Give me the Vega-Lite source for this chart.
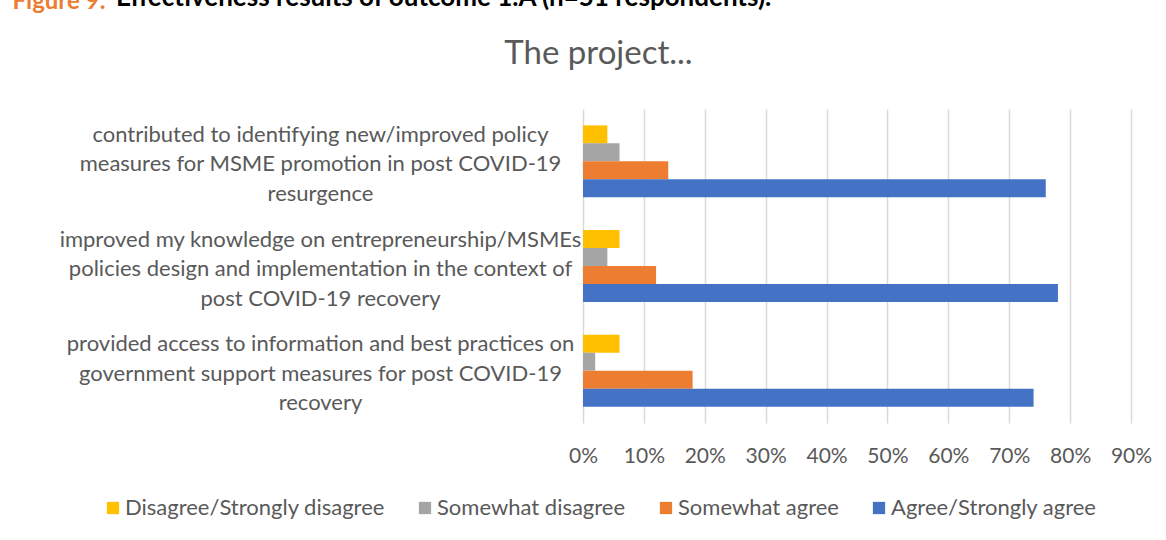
{
  "$schema": "https://vega.github.io/schema/vega-lite/v6.json",
  "width": 548,
  "height": 314,
  "autosize": {"type": "none"},
  "padding": {"left": 583, "top": 109, "right": 35, "bottom": 117},
  "background": "white",
  "config": {"font": "Lato", "view": {"stroke": null}},
  "title": {
    "text": "Effectiveness results of outcome 1.A (n=51 respondents).",
    "anchor": "start",
    "frame": "group",
    "dx": -467,
    "offset": -43,
    "fontSize": 26,
    "fontWeight": "bold",
    "color": "#000000",
    "baseline": "alphabetic"
  },
  "data": {
    "values": [
      {"statement": "contributed to identifying new/improved policy|measures for MSME promotion in post COVID-19|resurgence", "response": "Disagree/Strongly disagree", "pct": 0.04},
      {"statement": "contributed to identifying new/improved policy|measures for MSME promotion in post COVID-19|resurgence", "response": "Somewhat disagree", "pct": 0.06},
      {"statement": "contributed to identifying new/improved policy|measures for MSME promotion in post COVID-19|resurgence", "response": "Somewhat agree", "pct": 0.14},
      {"statement": "contributed to identifying new/improved policy|measures for MSME promotion in post COVID-19|resurgence", "response": "Agree/Strongly agree", "pct": 0.76},
      {"statement": "improved my knowledge on entrepreneurship/MSMEs|policies design and implementation in the context of|post COVID-19 recovery", "response": "Disagree/Strongly disagree", "pct": 0.06},
      {"statement": "improved my knowledge on entrepreneurship/MSMEs|policies design and implementation in the context of|post COVID-19 recovery", "response": "Somewhat disagree", "pct": 0.04},
      {"statement": "improved my knowledge on entrepreneurship/MSMEs|policies design and implementation in the context of|post COVID-19 recovery", "response": "Somewhat agree", "pct": 0.12},
      {"statement": "improved my knowledge on entrepreneurship/MSMEs|policies design and implementation in the context of|post COVID-19 recovery", "response": "Agree/Strongly agree", "pct": 0.78},
      {"statement": "provided access to information and best practices on|government support measures for post COVID-19|recovery", "response": "Disagree/Strongly disagree", "pct": 0.06},
      {"statement": "provided access to information and best practices on|government support measures for post COVID-19|recovery", "response": "Somewhat disagree", "pct": 0.02},
      {"statement": "provided access to information and best practices on|government support measures for post COVID-19|recovery", "response": "Somewhat agree", "pct": 0.18},
      {"statement": "provided access to information and best practices on|government support measures for post COVID-19|recovery", "response": "Agree/Strongly agree", "pct": 0.74}
    ]
  },
  "mark": {"type": "bar"},
  "encoding": {
    "y": {
      "field": "statement",
      "type": "nominal",
      "sort": null,
      "scale": {"paddingInner": 0.3125, "paddingOuter": 0.156},
      "axis": {
        "title": "Figure 9:",
        "titleAngle": 0,
        "titleAlign": "left",
        "titleBaseline": "alphabetic",
        "titleX": -571,
        "titleY": -101,
        "titleFontSize": 24,
        "titleFontWeight": "bold",
        "titleColor": "#ED7D31",
        "labelExpr": "split(datum.label, '|')",
        "labelAlign": "center",
        "labelBaseline": "middle",
        "labelPadding": 263,
        "labelOffset": -26.5,
        "labelLimit": 800,
        "labelFontSize": 22,
        "labelLineHeight": 29.5,
        "labelColor": "#595959",
        "ticks": false,
        "domain": false
      }
    },
    "yOffset": {
      "field": "response",
      "type": "nominal",
      "sort": ["Disagree/Strongly disagree", "Somewhat disagree", "Somewhat agree", "Agree/Strongly agree"],
      "scale": {"paddingInner": 0, "paddingOuter": 0}
    },
    "x": {
      "field": "pct",
      "type": "quantitative",
      "scale": {"domain": [0, 0.9], "nice": false},
      "axis": {
        "format": ".0%",
        "values": [0, 0.1, 0.2, 0.3, 0.4, 0.5, 0.6, 0.7, 0.8, 0.9],
        "grid": true,
        "gridColor": "#d9d9d9",
        "gridWidth": 1.5,
        "domain": false,
        "ticks": false,
        "labelFontSize": 21,
        "labelColor": "#595959",
        "labelPadding": 33,
        "labelBaseline": "middle",
        "labelFlush": false,
        "title": "The project...",
        "titleX": 15,
        "titleY": -360,
        "titleAlign": "center",
        "titleBaseline": "alphabetic",
        "titleFontSize": 33,
        "titleFontWeight": "normal",
        "titleColor": "#595959"
      }
    },
    "color": {
      "field": "response",
      "type": "nominal",
      "scale": {
        "domain": ["Disagree/Strongly disagree", "Somewhat disagree", "Somewhat agree", "Agree/Strongly agree"],
        "range": ["#FFC000", "#A5A5A5", "#ED7D31", "#4472C4"]
      },
      "legend": {
        "orient": "none",
        "legendX": -481,
        "legendY": 388,
        "direction": "horizontal",
        "title": null,
        "padding": 0,
        "symbolType": "square",
        "symbolSize": 150,
        "symbolStrokeWidth": 0,
        "labelFontSize": 22,
        "labelColor": "#595959",
        "labelOffset": 1,
        "columnPadding": 29,
        "labelLimit": 400
      }
    }
  }
}
